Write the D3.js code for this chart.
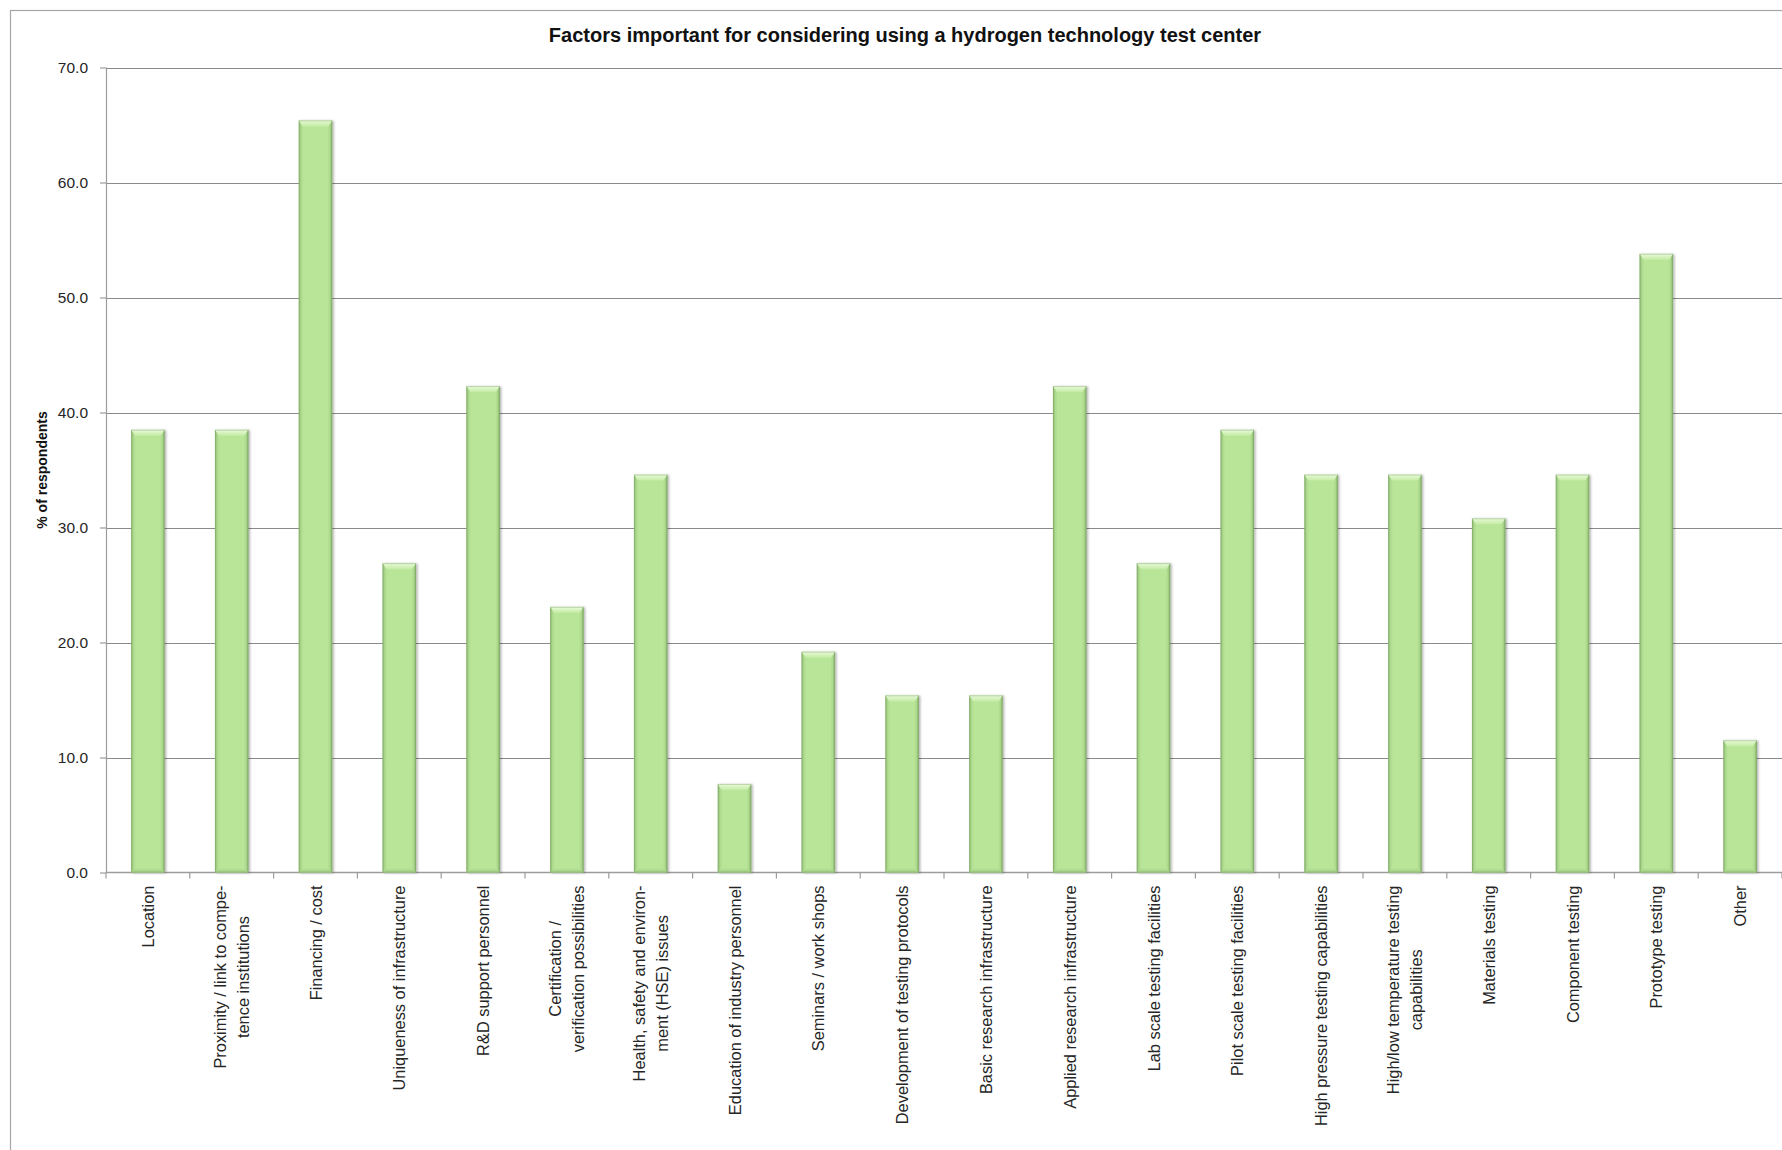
<!DOCTYPE html>
<html>
<head>
<meta charset="utf-8">
<script src="https://cdn.jsdelivr.net/npm/d3@7"></script>
<style>
  html, body { margin: 0; padding: 0; background: #ffffff; }
  svg { display: block; }
</style>
</head>
<body>
<script>
// Survey answers: share of respondents naming each factor
const categories = [
  "Location",
  "Proximity / link to compe-\ntence institutions",
  "Financing / cost",
  "Uniqueness of infrastructure",
  "R&D support personnel",
  "Certification /\nverification possibilities",
  "Health, safety and environ-\nment (HSE) issues",
  "Education of industry personnel",
  "Seminars / work shops",
  "Development of testing protocols",
  "Basic research infrastructure",
  "Applied research infrastructure",
  "Lab scale testing facilities",
  "Pilot scale testing facilities",
  "High pressure testing capabilities",
  "High/low temperature testing\ncapabilities",
  "Materials testing",
  "Component testing",
  "Prototype testing",
  "Other"
];
const values = [38.5, 38.5, 65.4, 26.9, 42.3, 23.1, 34.6, 7.7, 19.2, 15.4,
                15.4, 42.3, 26.9, 38.5, 34.6, 34.6, 30.8, 34.6, 53.8, 11.5];
const yTicks = [0, 10, 20, 30, 40, 50, 60, 70];
const chartTitle = "Factors important for considering using a hydrogen technology test center";
const yTitle = "% of respondents";

const W = 1782, H = 1150;
const plot = { left: 106, right: 1782, top: 67.5, bottom: 872.5 };
const FONT = "'Liberation Sans', Arial, sans-serif";

const svg = d3.select("body").append("svg")
  .attr("width", W).attr("height", H)
  .attr("viewBox", `0 0 ${W} ${H}`);

const defs = svg.append("defs");

// Bar body: darker green edges fading into a flat light green face
const side = defs.append("linearGradient").attr("id", "barSide")
  .attr("x1", "0").attr("x2", "1").attr("y1", "0").attr("y2", "0");
[["0%", "#8ab56e"], ["7%", "#acd98d"], ["14%", "#b9e598"], ["86%", "#b9e598"],
 ["93%", "#acd98d"], ["100%", "#82ab66"]]
  .forEach(([o, c]) => side.append("stop").attr("offset", o).attr("stop-color", c));

// Top bevel highlight
const topBevel = defs.append("linearGradient").attr("id", "barTop")
  .attr("x1", "0").attr("x2", "0").attr("y1", "0").attr("y2", "1");
[["0%", "#f2fce9"], ["35%", "#dcf5c6"], ["100%", "#c4eca6"]]
  .forEach(([o, c]) => topBevel.append("stop").attr("offset", o).attr("stop-color", c));

// Bottom bevel shade
const botBevel = defs.append("linearGradient").attr("id", "barBottom")
  .attr("x1", "0").attr("x2", "0").attr("y1", "0").attr("y2", "1");
[["0%", "#b6e296"], ["100%", "#9fcb81"]]
  .forEach(([o, c]) => botBevel.append("stop").attr("offset", o).attr("stop-color", c));

const shadow = defs.append("filter").attr("id", "barShadow")
  .attr("x", "-30%").attr("y", "-5%").attr("width", "160%").attr("height", "110%");
shadow.append("feDropShadow")
  .attr("dx", 1.5).attr("dy", 0.5).attr("stdDeviation", 1.3)
  .attr("flood-color", "#000").attr("flood-opacity", 0.3);

// Outer chart frame (continues past the right and bottom edges)
svg.append("rect")
  .attr("x", 10.5).attr("y", 10.5)
  .attr("width", W + 20).attr("height", H + 20)
  .attr("fill", "#ffffff").attr("stroke", "#a6a6a6").attr("stroke-width", 1.2);

// Scales
const x = d3.scaleBand()
  .domain(categories)
  .range([plot.left, plot.right])
  .paddingInner(0.6)
  .paddingOuter(0.3);

const y = d3.scaleLinear()
  .domain([0, 70])
  .range([plot.bottom, plot.top]);

// Horizontal gridlines
svg.append("g")
  .attr("transform", `translate(${plot.left},0)`)
  .call(d3.axisLeft(y).tickValues(yTicks.filter(t => t > 0))
    .tickSize(-(plot.right - plot.left)).tickFormat(""))
  .call(g => g.select(".domain").remove())
  .call(g => g.selectAll(".tick line")
    .attr("stroke", "#8a8a8a").attr("stroke-width", 1)
    .attr("shape-rendering", "crispEdges"));

// Y axis with labels
const yAxis = svg.append("g")
  .attr("transform", `translate(${plot.left},0)`)
  .call(d3.axisLeft(y).tickValues(yTicks).tickFormat(d3.format(".1f"))
    .tickSize(6).tickPadding(12));
yAxis.select(".domain")
  .attr("stroke", "#9c9c9c").attr("stroke-width", 1.2)
  .attr("d", `M0.5,${y(0)}V${y(70)}`);
yAxis.selectAll(".tick line").attr("stroke", "#9c9c9c").attr("stroke-width", 1.2);
yAxis.selectAll(".tick text")
  .attr("font-family", FONT).attr("font-size", 15.5).attr("fill", "#262626");

// X axis baseline and category separators
const step = x.step();
const edges = categories.map(c => x(c) - step * x.paddingInner() / 2)
  .concat([x(categories[categories.length - 1]) + x.bandwidth() + step * x.paddingInner() / 2]);
const xAxis = svg.append("g");
xAxis.append("line")
  .attr("x1", plot.left).attr("x2", plot.right)
  .attr("y1", y(0)).attr("y2", y(0))
  .attr("stroke", "#9c9c9c").attr("stroke-width", 1.5);
xAxis.selectAll("line.sep").data(edges).join("line")
  .attr("class", "sep")
  .attr("x1", d => d).attr("x2", d => d)
  .attr("y1", y(0)).attr("y2", y(0) + 6)
  .attr("stroke", "#9c9c9c").attr("stroke-width", 1.2);

// Bars
const bars = svg.append("g").selectAll("g.bar")
  .data(categories.map((c, i) => ({ c, v: values[i] })))
  .join("g").attr("class", "bar");

bars.each(function (d) {
  const g = d3.select(this);
  const x0 = x(d.c), w = x.bandwidth();
  const yt = y(d.v), yb = y(0);
  const bev = 6;
  g.append("rect")
    .attr("x", x0).attr("y", yt).attr("width", w).attr("height", yb - yt)
    .attr("fill", "url(#barSide)").attr("filter", "url(#barShadow)");
  g.append("path")
    .attr("d", `M${x0},${yt}H${x0 + w}L${x0 + w - 4},${yt + bev}H${x0 + 4}Z`)
    .attr("fill", "url(#barTop)");
  g.append("path")
    .attr("d", `M${x0},${yb}H${x0 + w}L${x0 + w - 3},${yb - 4}H${x0 + 3}Z`)
    .attr("fill", "url(#barBottom)");
  g.append("rect")
    .attr("x", x0 + 0.5).attr("y", yt + 0.5).attr("width", w - 1).attr("height", yb - yt - 1)
    .attr("fill", "none").attr("stroke", "#7fa965").attr("stroke-opacity", 0.45);
});

// Category labels, rotated, lines centred on each other
const lineH = 23;
const labelTop = y(0) + 13;
const labels = svg.append("g").selectAll("g.lab")
  .data(categories).join("g").attr("class", "lab")
  .attr("transform", c => `translate(${x(c) + x.bandwidth() / 2},${labelTop}) rotate(-90)`);

labels.each(function (c) {
  const g = d3.select(this);
  const lines = c.split("\n");
  const t = g.append("text")
    .attr("font-family", FONT).attr("font-size", 16.4).attr("fill", "#262626")
    .attr("text-anchor", "middle").attr("dominant-baseline", "central");
  const spans = lines.map((ln, i) => t.append("tspan")
    .attr("x", 0).attr("y", (i - (lines.length - 1) / 2) * lineH).text(ln));
  const maxLen = d3.max(spans, s => s.node().getComputedTextLength());
  spans.forEach(s => s.attr("x", -maxLen / 2));
});

// Axis title
svg.append("text")
  .attr("transform", `translate(42,${(plot.top + plot.bottom) / 2}) rotate(-90)`)
  .attr("text-anchor", "middle").attr("dominant-baseline", "central")
  .attr("font-family", FONT).attr("font-weight", "bold").attr("font-size", 14)
  .attr("fill", "#111").text(yTitle);

// Chart title
svg.append("text")
  .attr("x", 905).attr("y", 35)
  .attr("text-anchor", "middle").attr("dominant-baseline", "central")
  .attr("font-family", FONT).attr("font-weight", "bold").attr("font-size", 20)
  .attr("fill", "#111").text(chartTitle);
</script>
</body>
</html>
